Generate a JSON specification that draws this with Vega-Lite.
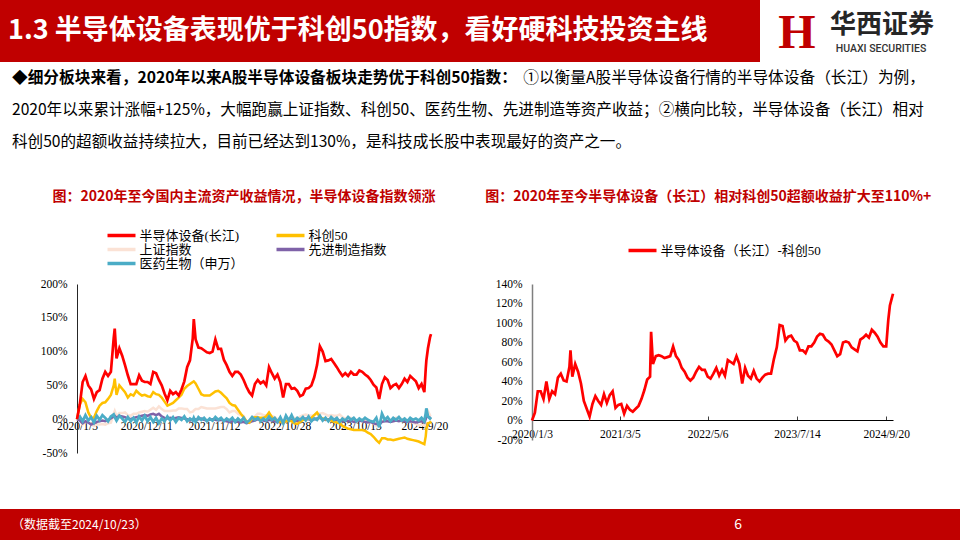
{
"$schema": "https://vega.github.io/schema/vega-lite/v6.json",
"padding": 0,
"background": "white",
"spacing": 0,
"config": {"view": {"stroke": null}},
"datasets": {"main": [
{"date":"2020-01-03","semi":0,"kc50":0,"sh":0,"adv":0,"med":0,"exc":0},
{"date":"2020-01-17","semi":22,"kc50":22,"sh":-1,"adv":-2,"med":4,"exc":8},
{"date":"2020-01-31","semi":55,"kc50":30,"sh":-8,"adv":-6,"med":-3,"exc":30},
{"date":"2020-02-14","semi":64,"kc50":25,"sh":-4,"adv":-3,"med":6,"exc":30},
{"date":"2020-02-28","semi":50,"kc50":10,"sh":-5,"adv":-5,"med":-2,"exc":22},
{"date":"2020-03-13","semi":44,"kc50":2,"sh":-7,"adv":-8,"med":3,"exc":40},
{"date":"2020-03-27","semi":30,"kc50":2,"sh":-10,"adv":-6,"med":-5,"exc":22},
{"date":"2020-04-10","semi":40,"kc50":12,"sh":-8,"adv":-4,"med":5,"exc":30},
{"date":"2020-04-24","semi":43,"kc50":20,"sh":-8,"adv":-3,"med":-1,"exc":27},
{"date":"2020-05-08","semi":60,"kc50":24,"sh":-7,"adv":-2,"med":6,"exc":44},
{"date":"2020-05-22","semi":70,"kc50":25,"sh":-8,"adv":-3,"med":2,"exc":48},
{"date":"2020-06-05","semi":64,"kc50":30,"sh":-6,"adv":-1,"med":-3,"exc":41},
{"date":"2020-06-19","semi":70,"kc50":36,"sh":-5,"adv":1,"med":4,"exc":40},
{"date":"2020-07-03","semi":120,"kc50":50,"sh":8,"adv":4,"med":7,"exc":55},
{"date":"2020-07-08","semi":134,"kc50":60,"sh":12,"adv":5,"med":3,"exc":72},
{"date":"2020-07-17","semi":90,"kc50":36,"sh":4,"adv":2,"med":-2,"exc":45},
{"date":"2020-07-31","semi":105,"kc50":50,"sh":9,"adv":5,"med":5,"exc":58},
{"date":"2020-08-14","semi":94,"kc50":45,"sh":9,"adv":4,"med":1,"exc":50},
{"date":"2020-08-28","semi":80,"kc50":40,"sh":10,"adv":3,"med":-4,"exc":38},
{"date":"2020-09-11","semi":65,"kc50":32,"sh":6,"adv":1,"med":3,"exc":20},
{"date":"2020-09-25","semi":52,"kc50":37,"sh":5,"adv":0,"med":-3,"exc":12},
{"date":"2020-10-09","semi":52,"kc50":35,"sh":8,"adv":2,"med":2,"exc":4},
{"date":"2020-10-23","semi":52,"kc50":42,"sh":8,"adv":3,"med":-5,"exc":17},
{"date":"2020-11-06","semi":65,"kc50":38,"sh":10,"adv":4,"med":4,"exc":25},
{"date":"2020-11-20","semi":57,"kc50":35,"sh":11,"adv":5,"med":-2,"exc":20},
{"date":"2020-12-04","semi":55,"kc50":36,"sh":12,"adv":6,"med":5,"exc":16},
{"date":"2020-12-18","semi":55,"kc50":34,"sh":11,"adv":5,"med":-3,"exc":27},
{"date":"2021-01-01","semi":52,"kc50":33,"sh":14,"adv":7,"med":3,"exc":18},
{"date":"2021-01-15","semi":70,"kc50":40,"sh":17,"adv":8,"med":-4,"exc":26},
{"date":"2021-01-29","semi":68,"kc50":37,"sh":14,"adv":6,"med":2,"exc":30},
{"date":"2021-02-12","semi":58,"kc50":36,"sh":19,"adv":8,"med":-6,"exc":13},
{"date":"2021-02-26","semi":50,"kc50":32,"sh":15,"adv":4,"med":1,"exc":16},
{"date":"2021-03-12","semi":38,"kc50":26,"sh":12,"adv":2,"med":-3,"exc":17},
{"date":"2021-03-26","semi":28,"kc50":20,"sh":12,"adv":1,"med":4,"exc":7},
{"date":"2021-04-09","semi":42,"kc50":22,"sh":12,"adv":2,"med":-2,"exc":15},
{"date":"2021-04-23","semi":37,"kc50":24,"sh":13,"adv":1,"med":3,"exc":11},
{"date":"2021-05-07","semi":40,"kc50":28,"sh":13,"adv":2,"med":-4,"exc":9},
{"date":"2021-05-21","semi":35,"kc50":32,"sh":16,"adv":3,"med":2,"exc":12},
{"date":"2021-06-04","semi":44,"kc50":36,"sh":16,"adv":2,"med":-1,"exc":15},
{"date":"2021-06-18","semi":56,"kc50":45,"sh":15,"adv":1,"med":4,"exc":22},
{"date":"2021-07-02","semi":77,"kc50":49,"sh":15,"adv":0,"med":-3,"exc":31},
{"date":"2021-07-16","semi":87,"kc50":52,"sh":10,"adv":-2,"med":1,"exc":42},
{"date":"2021-07-30","semi":120,"kc50":55,"sh":11,"adv":0,"med":-2,"exc":45},
{"date":"2021-08-04","semi":148,"kc50":56,"sh":13,"adv":1,"med":2,"exc":91},
{"date":"2021-08-13","semi":118,"kc50":53,"sh":15,"adv":-1,"med":-4,"exc":58},
{"date":"2021-08-27","semi":106,"kc50":45,"sh":15,"adv":0,"med":3,"exc":66},
{"date":"2021-09-10","semi":105,"kc50":37,"sh":18,"adv":1,"med":-1,"exc":67},
{"date":"2021-09-24","semi":102,"kc50":35,"sh":17,"adv":-1,"med":2,"exc":66},
{"date":"2021-10-08","semi":99,"kc50":35,"sh":16,"adv":-2,"med":-3,"exc":64},
{"date":"2021-10-22","semi":98,"kc50":35,"sh":16,"adv":-1,"med":1,"exc":65},
{"date":"2021-11-05","semi":100,"kc50":38,"sh":16,"adv":0,"med":-2,"exc":66},
{"date":"2021-11-19","semi":118,"kc50":41,"sh":16,"adv":-1,"med":3,"exc":76},
{"date":"2021-12-03","semi":104,"kc50":42,"sh":17,"adv":-2,"med":-1,"exc":66},
{"date":"2021-12-17","semi":104,"kc50":39,"sh":18,"adv":-1,"med":2,"exc":62},
{"date":"2021-12-31","semi":88,"kc50":35,"sh":18,"adv":-2,"med":-3,"exc":54},
{"date":"2022-01-14","semi":80,"kc50":31,"sh":15,"adv":-3,"med":1,"exc":50},
{"date":"2022-01-28","semi":70,"kc50":24,"sh":10,"adv":-4,"med":-2,"exc":44},
{"date":"2022-02-11","semi":64,"kc50":21,"sh":12,"adv":-3,"med":2,"exc":41},
{"date":"2022-02-25","semi":70,"kc50":20,"sh":12,"adv":-2,"med":-4,"exc":44},
{"date":"2022-03-11","semi":70,"kc50":14,"sh":8,"adv":-4,"med":1,"exc":50},
{"date":"2022-03-25","semi":66,"kc50":8,"sh":6,"adv":-5,"med":-3,"exc":55},
{"date":"2022-04-08","semi":58,"kc50":3,"sh":5,"adv":-4,"med":2,"exc":52},
{"date":"2022-04-22","semi":48,"kc50":-3,"sh":-4,"adv":-6,"med":-5,"exc":52},
{"date":"2022-05-06","semi":40,"kc50":-5,"sh":-2,"adv":-5,"med":-2,"exc":45},
{"date":"2022-05-20","semi":35,"kc50":1,"sh":2,"adv":-3,"med":3,"exc":43},
{"date":"2022-06-03","semi":52,"kc50":3,"sh":4,"adv":-2,"med":-1,"exc":48},
{"date":"2022-06-17","semi":58,"kc50":3,"sh":8,"adv":0,"med":2,"exc":54},
{"date":"2022-07-01","semi":53,"kc50":2,"sh":8,"adv":-1,"med":-3,"exc":46},
{"date":"2022-07-15","semi":56,"kc50":2,"sh":6,"adv":-2,"med":1,"exc":52},
{"date":"2022-07-29","semi":50,"kc50":4,"sh":6,"adv":-3,"med":-2,"exc":46},
{"date":"2022-08-12","semi":77,"kc50":10,"sh":6,"adv":-1,"med":4,"exc":62},
{"date":"2022-08-26","semi":68,"kc50":3,"sh":5,"adv":-2,"med":-1,"exc":60},
{"date":"2022-09-09","semi":60,"kc50":0,"sh":3,"adv":-3,"med":2,"exc":58},
{"date":"2022-09-23","semi":66,"kc50":-2,"sh":0,"adv":-4,"med":-4,"exc":66},
{"date":"2022-10-07","semi":55,"kc50":-4,"sh":-1,"adv":-4,"med":3,"exc":58},
{"date":"2022-10-21","semi":32,"kc50":-5,"sh":-2,"adv":-5,"med":-6,"exc":38},
{"date":"2022-11-04","semi":52,"kc50":-3,"sh":-1,"adv":-3,"med":5,"exc":54},
{"date":"2022-11-18","semi":52,"kc50":-2,"sh":1,"adv":-2,"med":-2,"exc":46},
{"date":"2022-12-02","semi":45,"kc50":-3,"sh":3,"adv":-1,"med":6,"exc":43},
{"date":"2022-12-16","semi":46,"kc50":-6,"sh":2,"adv":-2,"med":-3,"exc":51},
{"date":"2022-12-30","semi":42,"kc50":-7,"sh":1,"adv":-3,"med":2,"exc":43},
{"date":"2023-01-13","semi":34,"kc50":-4,"sh":4,"adv":-1,"med":-1,"exc":40},
{"date":"2023-01-27","semi":36,"kc50":-1,"sh":6,"adv":0,"med":3,"exc":44},
{"date":"2023-02-10","semi":45,"kc50":0,"sh":7,"adv":1,"med":-2,"exc":47},
{"date":"2023-02-24","semi":46,"kc50":1,"sh":6,"adv":0,"med":4,"exc":48},
{"date":"2023-03-10","semi":50,"kc50":2,"sh":5,"adv":-1,"med":-3,"exc":48},
{"date":"2023-03-24","semi":62,"kc50":6,"sh":6,"adv":0,"med":1,"exc":63},
{"date":"2023-04-07","semi":80,"kc50":10,"sh":8,"adv":1,"med":-1,"exc":75},
{"date":"2023-04-21","semi":108,"kc50":3,"sh":8,"adv":2,"med":5,"exc":98},
{"date":"2023-05-05","semi":100,"kc50":1,"sh":9,"adv":0,"med":-2,"exc":97},
{"date":"2023-05-19","semi":86,"kc50":0,"sh":7,"adv":-1,"med":2,"exc":82},
{"date":"2023-06-02","semi":87,"kc50":-1,"sh":5,"adv":0,"med":-3,"exc":86},
{"date":"2023-06-16","semi":89,"kc50":-2,"sh":6,"adv":-1,"med":3,"exc":87},
{"date":"2023-06-30","semi":83,"kc50":-4,"sh":5,"adv":-2,"med":-1,"exc":82},
{"date":"2023-07-14","semi":77,"kc50":-5,"sh":5,"adv":-1,"med":2,"exc":80},
{"date":"2023-07-28","semi":70,"kc50":-6,"sh":7,"adv":-2,"med":-4,"exc":72},
{"date":"2023-08-11","semi":64,"kc50":-10,"sh":3,"adv":-3,"med":1,"exc":72},
{"date":"2023-08-25","semi":68,"kc50":-12,"sh":1,"adv":-2,"med":-2,"exc":69},
{"date":"2023-09-08","semi":64,"kc50":-14,"sh":3,"adv":-3,"med":3,"exc":76},
{"date":"2023-09-22","semi":70,"kc50":-15,"sh":2,"adv":-2,"med":-1,"exc":76},
{"date":"2023-10-06","semi":66,"kc50":-16,"sh":0,"adv":-4,"med":2,"exc":80},
{"date":"2023-10-20","semi":66,"kc50":-16,"sh":-3,"adv":-3,"med":-3,"exc":86},
{"date":"2023-11-03","semi":72,"kc50":-16,"sh":-1,"adv":-2,"med":1,"exc":89},
{"date":"2023-11-17","semi":70,"kc50":-16,"sh":-1,"adv":-3,"med":-2,"exc":88},
{"date":"2023-12-01","semi":66,"kc50":-17,"sh":-2,"adv":-4,"med":2,"exc":83},
{"date":"2023-12-15","semi":63,"kc50":-20,"sh":-4,"adv":-5,"med":-1,"exc":81},
{"date":"2023-12-29","semi":58,"kc50":-22,"sh":-4,"adv":-4,"med":-3,"exc":78},
{"date":"2024-01-12","semi":51,"kc50":-26,"sh":-6,"adv":-6,"med":-4,"exc":72},
{"date":"2024-01-26","semi":47,"kc50":-31,"sh":-10,"adv":-7,"med":2,"exc":66},
{"date":"2024-02-09","semi":30,"kc50":-35,"sh":-6,"adv":-8,"med":-12,"exc":68},
{"date":"2024-02-23","semi":52,"kc50":-28,"sh":-3,"adv":-4,"med":8,"exc":80},
{"date":"2024-03-08","semi":62,"kc50":-28,"sh":-1,"adv":-3,"med":-1,"exc":81},
{"date":"2024-03-22","semi":58,"kc50":-30,"sh":-1,"adv":-3,"med":3,"exc":80},
{"date":"2024-04-05","semi":46,"kc50":-30,"sh":-1,"adv":-4,"med":-3,"exc":75},
{"date":"2024-04-19","semi":50,"kc50":-31,"sh":0,"adv":-3,"med":2,"exc":73},
{"date":"2024-05-03","semi":52,"kc50":-30,"sh":2,"adv":-2,"med":-1,"exc":71},
{"date":"2024-05-17","semi":46,"kc50":-29,"sh":2,"adv":-3,"med":3,"exc":83},
{"date":"2024-05-31","semi":52,"kc50":-28,"sh":0,"adv":-2,"med":-2,"exc":85},
{"date":"2024-06-14","semi":60,"kc50":-27,"sh":-2,"adv":-3,"med":1,"exc":88},
{"date":"2024-06-28","semi":55,"kc50":-29,"sh":-3,"adv":-4,"med":-3,"exc":85},
{"date":"2024-07-12","semi":64,"kc50":-30,"sh":-4,"adv":-3,"med":2,"exc":93},
{"date":"2024-07-26","semi":60,"kc50":-31,"sh":-5,"adv":-4,"med":-1,"exc":90},
{"date":"2024-08-09","semi":56,"kc50":-32,"sh":-7,"adv":-5,"med":1,"exc":86},
{"date":"2024-08-23","semi":46,"kc50":-33,"sh":-9,"adv":-4,"med":-2,"exc":80},
{"date":"2024-09-06","semi":52,"kc50":-35,"sh":-8,"adv":-3,"med":2,"exc":76},
{"date":"2024-09-20","semi":40,"kc50":-37,"sh":-10,"adv":-5,"med":-3,"exc":76},
{"date":"2024-09-27","semi":75,"kc50":-25,"sh":3,"adv":0,"med":9,"exc":95},
{"date":"2024-09-30","semi":87,"kc50":-15,"sh":9,"adv":3,"med":16,"exc":103},
{"date":"2024-10-08","semi":105,"kc50":-6,"sh":12,"adv":4,"med":4,"exc":118},
{"date":"2024-10-18","semi":121,"kc50":-5,"sh":6,"adv":2,"med":1,"exc":126},
{"date":"2024-10-23","semi":126,"kc50":-3,"sh":7,"adv":3,"med":3,"exc":130}
]},
"vconcat": [
{"hconcat": [
  {"width": 760, "height": 62,
   "data": {"values": [{"t": "1.3 半导体设备表现优于科创50指数，看好硬科技投资主线"}]},
   "layer": [
     {"mark": {"type": "rect", "color": "#C00000"}, "encoding": {}},
     {"mark": {"type": "text", "color": "#FFFFFF", "font": "Noto Sans CJK SC", "fontSize": 27, "fontWeight": "bold", "align": "left", "baseline": "middle"},
      "encoding": {"text": {"field": "t"}, "x": {"datum": 0.0105, "type": "quantitative", "scale": {"domain": [0, 1]}, "axis": null}}}
   ]},
  {"width": 200, "height": 62,
   "data": {"values": [{"cn": "华西证券", "en": "HUAXI SECURITIES", "icon": "H"}]},
   "layer": [
     {"mark": {"type": "text", "color": "#C00000", "font": "Liberation Serif", "fontSize": 48, "fontWeight": "bold", "align": "center", "baseline": "middle"},
      "encoding": {"text": {"field": "icon"}, "x": {"datum": 0.185, "type": "quantitative", "scale": {"domain": [0, 1]}, "axis": null}, "y": {"datum": 0.45, "type": "quantitative", "scale": {"domain": [0, 1]}, "axis": null}}},
     {"mark": {"type": "text", "color": "#262626", "font": "Noto Sans CJK SC", "fontSize": 26, "fontWeight": "bold", "align": "center", "baseline": "middle"},
      "encoding": {"text": {"field": "cn"}, "x": {"datum": 0.61, "type": "quantitative", "scale": {"domain": [0, 1]}, "axis": null}, "y": {"datum": 0.6, "type": "quantitative", "scale": {"domain": [0, 1]}, "axis": null}}},
     {"mark": {"type": "text", "color": "#333333", "font": "Roboto", "fontSize": 10.5, "fontWeight": 500, "align": "center", "baseline": "middle"},
      "encoding": {"text": {"field": "en"}, "x": {"datum": 0.605, "type": "quantitative", "scale": {"domain": [0, 1]}, "axis": null}, "y": {"datum": 0.21, "type": "quantitative", "scale": {"domain": [0, 1]}, "axis": null}}}
   ]}
 ], "spacing": 0},
{"width": 960, "height": 128,
 "data": {"values": [
   {"line": 1, "w": "b", "t": "◆细分板块来看，2020年以来A股半导体设备板块走势优于科创50指数："},
   {"line": 1, "w": "r", "t": "①以衡量A股半导体设备行情的半导体设备（长江）为例，"},
   {"line": 2, "w": "n", "t": "2020年以来累计涨幅+125%，大幅跑赢上证指数、科创50、医药生物、先进制造等资产收益；②横向比较，半导体设备（长江）相对"},
   {"line": 3, "w": "n", "t": "科创50的超额收益持续拉大，目前已经达到130%，是科技成长股中表现最好的资产之一。"}
 ]},
 "encoding": {
   "y": {"field": "line", "type": "ordinal", "scale": {"type": "point", "padding": 1.783, "align": 0.244}, "axis": null},
   "text": {"field": "t"}
 },
 "layer": [
   {"transform": [{"filter": "datum.w == 'b'"}],
    "mark": {"type": "text", "font": "Noto Sans CJK SC", "fontSize": 15.7, "fontWeight": "bold", "color": "#000000", "align": "left", "baseline": "middle"},
    "encoding": {"x": {"datum": 0.0125, "type": "quantitative", "scale": {"domain": [0, 1]}, "axis": null}}},
   {"transform": [{"filter": "datum.w == 'r'"}],
    "mark": {"type": "text", "font": "Noto Sans CJK SC", "fontSize": 15.7, "color": "#000000", "align": "right", "baseline": "middle"},
    "encoding": {"x": {"datum": 0.9635, "type": "quantitative", "scale": {"domain": [0, 1]}, "axis": null}}},
   {"transform": [{"filter": "datum.w == 'n'"}],
    "mark": {"type": "text", "font": "Noto Sans CJK SC", "fontSize": 15.6, "color": "#000000", "align": "left", "baseline": "middle"},
    "encoding": {"x": {"datum": 0.0125, "type": "quantitative", "scale": {"domain": [0, 1]}, "axis": null}}}
 ]},
{"hconcat": [
  {"width": 3, "height": 1, "data": {"values": []}, "mark": {"type": "point", "opacity": 0}, "encoding": {}},
  {"width": 354, "height": 169,
   "data": {"name": "main"},
   "title": {"text": "图：2020年至今国内主流资产收益情况，半导体设备指数领涨", "font": "Noto Sans CJK SC", "fontSize": 14, "fontWeight": "bold", "color": "#C00000", "anchor": "middle", "offset": 24.5, "dx": -10},
   "transform": [{"fold": ["semi", "kc50", "sh", "adv", "med"], "as": ["series", "value"]}],
   "encoding": {
     "x": {"field": "date", "type": "temporal", "scale": {"type": "utc", "domain": ["2020-01-03", "2024-10-23"]},
           "axis": {"title": null, "values": ["2020-01-03", "2020-12-11", "2021-11-12", "2022-10-28", "2023-10-13", "2024-09-20"], "format": "%Y/%-m/%-d", "labelFont": "Liberation Serif", "labelFontSize": 11.5, "labelColor": "#000000", "labelFlush": false, "labelOverlap": false, "domain": false, "ticks": false, "grid": false, "offset": -34, "labelPadding": 1}},
     "y": {"field": "value", "type": "quantitative", "scale": {"domain": [-50, 200], "nice": false},
           "axis": {"title": null, "values": [-50, 0, 50, 100, 150, 200], "labelExpr": "datum.value + '%'", "labelFont": "Liberation Serif", "labelFontSize": 11.5, "labelColor": "#000000", "labelFlush": false, "domainColor": "#262626", "ticks": false, "grid": false, "labelPadding": 10}},
     "color": {"field": "series", "type": "nominal",
               "scale": {"domain": ["semi", "kc50", "sh", "adv", "med"], "range": ["#FF0000", "#FFC000", "#FBE2D5", "#7F62A8", "#4BACC6"]},
               "legend": {"orient": "none", "legendX": 37.5, "legendY": -55.5, "direction": "horizontal", "columns": 2, "columnPadding": 25, "rowPadding": 0, "padding": 0, "title": null,
                          "symbolType": "M-2.8,0H2.8", "symbolSize": 100, "symbolStrokeWidth": 3.5, "labelOffset": 11, "labelLimit": 300,
                          "labelFont": "Liberation Serif, Noto Sans CJK SC", "labelFontSize": 13, "labelColor": "#000000",
                          "labelExpr": "datum.label == 'semi' ? '半导体设备(长江)' : datum.label == 'kc50' ? '科创50' : datum.label == 'sh' ? '上证指数' : datum.label == 'adv' ? '先进制造指数' : '医药生物（申万）'"}}
   },
   "layer": [
     {"transform": [{"filter": "datum.series == 'sh'"}], "mark": {"type": "line", "strokeWidth": 2.5}},
     {"transform": [{"filter": "datum.series == 'adv'"}], "mark": {"type": "line", "strokeWidth": 2.5}},
     {"transform": [{"filter": "datum.series == 'kc50'"}], "mark": {"type": "line", "strokeWidth": 2.5}},
     {"transform": [{"filter": "datum.series == 'med'"}], "mark": {"type": "line", "strokeWidth": 2.8}},
     {"transform": [{"filter": "datum.series == 'semi'"}], "mark": {"type": "line", "strokeWidth": 2.7}}
   ]},
  {"width": 361, "height": 156,
   "data": {"name": "main"},
   "title": {"text": "图：2020年至今半导体设备（长江）相对科创50超额收益扩大至110%+", "font": "Noto Sans CJK SC", "fontSize": 14, "fontWeight": "bold", "color": "#C00000", "anchor": "start", "offset": 39.5, "dx": -10},
   "mark": {"type": "line", "strokeWidth": 2.7},
   "encoding": {
     "x": {"field": "date", "type": "temporal", "scale": {"type": "utc", "domain": ["2020-01-03", "2024-10-23"]},
           "axis": {"title": null, "values": ["2020-01-03", "2021-03-05", "2022-05-06", "2023-07-14", "2024-09-20"], "format": "%Y/%-m/%-d", "labelFont": "Liberation Serif", "labelFontSize": 11.5, "labelColor": "#000000", "labelFlush": false, "labelOverlap": false, "domain": true, "domainColor": "#000000", "ticks": true, "tickSize": -4, "tickColor": "#404040", "grid": false, "offset": -20, "labelPadding": 12}},
     "y": {"field": "exc", "type": "quantitative", "scale": {"domain": [-20, 140], "nice": false},
           "axis": {"title": null, "values": [-20, 0, 20, 40, 60, 80, 100, 120, 140], "labelExpr": "datum.value + '%'", "labelFont": "Liberation Serif", "labelFontSize": 11.5, "labelColor": "#000000", "labelFlush": false, "domainColor": "#7F7F7F", "domainWidth": 1.5, "ticks": false, "grid": false, "labelPadding": 10}},
     "color": {"datum": "半导体设备（长江）-科创50", "type": "nominal",
               "scale": {"range": ["#FF0000"]},
               "legend": {"orient": "none", "legendX": 103.5, "legendY": -40.5, "padding": 0, "title": null,
                          "symbolType": "M-2.8,0H2.8", "symbolSize": 100, "symbolStrokeWidth": 3.5, "labelOffset": 11, "labelLimit": 300,
                          "labelFont": "Liberation Serif, Noto Sans CJK SC", "labelFontSize": 13, "labelColor": "#000000"}}
   }}
 ], "spacing": 37,
 "resolve": {"scale": {"color": "independent", "x": "independent", "y": "independent"}, "legend": {"color": "independent"}}},
{"width": 10, "height": 50, "data": {"values": []}, "mark": {"type": "point", "opacity": 0}, "encoding": {}},
{"width": 960, "height": 32,
 "data": {"values": [{"note": "（数据截至2024/10/23）", "page": "6"}]},
 "layer": [
   {"mark": {"type": "rect", "color": "#C00000"}, "encoding": {}},
   {"mark": {"type": "text", "color": "#FFFFFF", "font": "Noto Sans CJK SC", "fontSize": 12, "align": "left", "baseline": "middle"},
    "encoding": {"text": {"field": "note"}, "x": {"datum": 0.0125, "type": "quantitative", "scale": {"domain": [0, 1]}, "axis": null}}},
   {"mark": {"type": "text", "color": "#FFFFFF", "font": "Noto Sans CJK SC", "fontSize": 14, "align": "center", "baseline": "middle"},
    "encoding": {"text": {"field": "page"}, "x": {"datum": 0.769, "type": "quantitative", "scale": {"domain": [0, 1]}, "axis": null}}}
 ]}
]
}
